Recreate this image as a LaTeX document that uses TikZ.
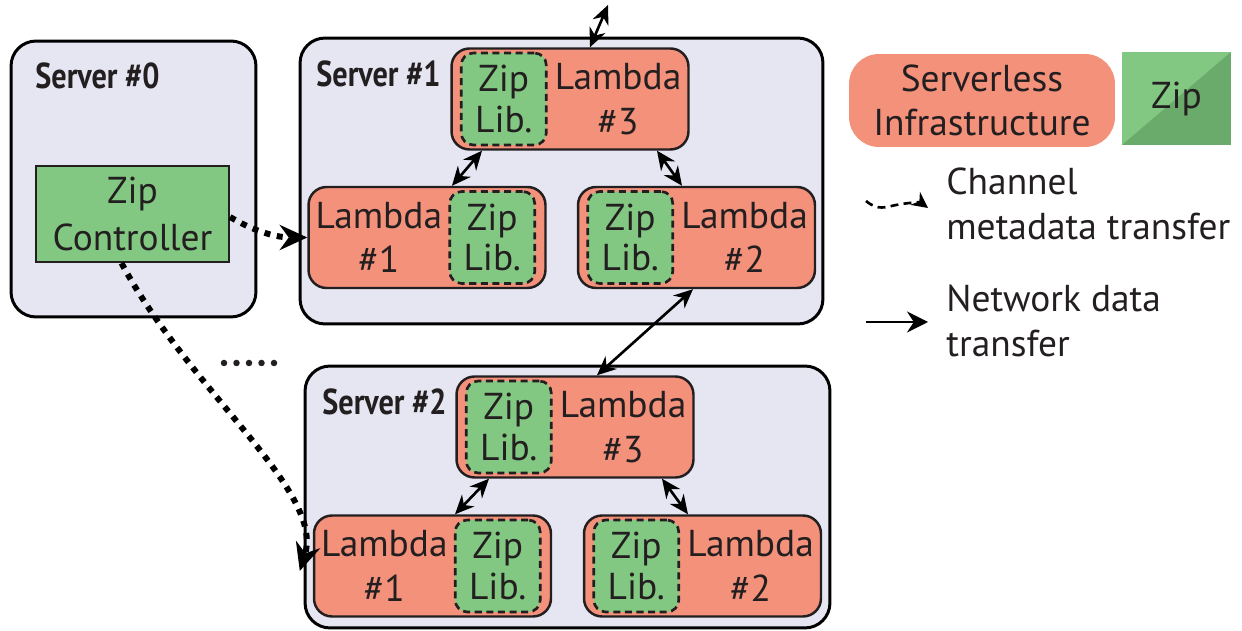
\documentclass[tikz,border=0pt]{standalone}
\usepackage{fontspec}
\setmainfont{PT Sans}
\newfontfamily\servfont[FakeStretch=0.84]{PT Sans}
\usetikzlibrary{arrows.meta,positioning,calc}
\definecolor{Ink}{HTML}{231F20}
\definecolor{ServerBg}{HTML}{E6E6F2}
\definecolor{Salmon}{HTML}{F3917B}
\definecolor{ZipGreen}{HTML}{82C882}
\definecolor{ZipDark}{HTML}{6AAA6A}
\newcommand{\figsize}{\fontsize{21.3pt}{25.5pt}\selectfont}

\begin{document}
\begin{tikzpicture}[x=0.02cm,y=-0.02cm,
  server/.style={draw=black,line width=1.7pt,fill=ServerBg,rounded corners=0.5cm,inner sep=0pt},
  srvlabel/.style={font=\servfont\bfseries\fontsize{20.5pt}{24pt}\selectfont,text=Ink,anchor=base west,inner sep=0pt},
  lambda/.style={draw=Ink,line width=1.4pt,fill=Salmon,rounded corners=0.36cm,minimum width=4.74cm,minimum height=2.02cm,inner sep=0pt},
  lamtext/.style={font=\figsize,text=Ink,align=center,inner sep=0pt},
  ziplib/.style={draw=Ink,line width=1.5pt,dash pattern=on 4pt off 2.6pt,fill=ZipGreen,rounded corners=0.24cm,minimum width=1.7cm,minimum height=1.84cm,inner sep=0pt,align=center,text=Ink,font=\fontsize{21.3pt}{23pt}\selectfont},
  zipctl/.style={draw=Ink,line width=1.3pt,fill=ZipGreen,minimum width=3.86cm,minimum height=1.92cm,inner sep=0pt,align=center,text=Ink,font=\fontsize{21.3pt}{27pt}\selectfont},
  net/.style={line width=1.5pt,arrows={Stealth[length=3.8mm,width=3.4mm]-Stealth[length=3.8mm,width=3.4mm]}},
  meta/.style={line width=3.4pt,dash pattern=on 3.4pt off 3.8pt,-{Stealth[length=5.5mm,width=5mm]}},
  legtext/.style={font=\figsize,text=Ink,align=left,anchor=west,inner sep=0pt}
]
\useasboundingbox (0,0) rectangle (1242,631);

\node[server,minimum width=4.9cm,minimum height=5.52cm] (srv0) at (133.5,179) {};
\node[server,minimum width=10.46cm,minimum height=5.72cm] (srv1) at (561.5,181) {};
\node[server,minimum width=10.5cm,minimum height=5.24cm] (srv2) at (567.5,497) {};
\node[srvlabel] (srv0t) at (35,89) {Server \#0};
\node[srvlabel] (srv1t) at (316,87) {Server \#1};
\node[srvlabel] (srv2t) at (322,415) {Server \#2};

\node[zipctl] (ctl) at (132.5,214) {Zip\\Controller};

\node[lambda] (s1l3) at (570,99) {};
\node[ziplib] (s1z3) at ([xshift=1.07cm]s1l3.west) {Zip\\Lib.};
\node[lamtext,anchor=east] (s1t3) at ([xshift=-0.16cm]s1l3.east) {Lambda\\\#3};
\node[lambda] (s1l1) at (427,237.5) {};
\node[ziplib] (s1z1) at ([xshift=-1.09cm]s1l1.east) {Zip\\Lib.};
\node[lamtext,anchor=west] (s1t1) at ([xshift=0.16cm]s1l1.west) {Lambda\\\#1};
\node[lambda] (s1l2) at (696.5,237.5) {};
\node[ziplib] (s1z2) at ([xshift=1.07cm]s1l2.west) {Zip\\Lib.};
\node[lamtext,anchor=east] (s1t2) at ([xshift=-0.16cm]s1l2.east) {Lambda\\\#2};

\node[lambda] (s2l3) at (575,427) {};
\node[ziplib] (s2z3) at ([xshift=1.07cm]s2l3.west) {Zip\\Lib.};
\node[lamtext,anchor=east] (s2t3) at ([xshift=-0.16cm]s2l3.east) {Lambda\\\#3};
\node[lambda] (s2l1) at (432.5,566) {};
\node[ziplib] (s2z1) at ([xshift=-1.09cm]s2l1.east) {Zip\\Lib.};
\node[lamtext,anchor=west] (s2t1) at ([xshift=0.16cm]s2l1.west) {Lambda\\\#1};
\node[lambda] (s2l2) at (702.5,566) {};
\node[ziplib] (s2z2) at ([xshift=1.07cm]s2l2.west) {Zip\\Lib.};
\node[lamtext,anchor=east] (s2t2) at ([xshift=-0.16cm]s2l2.east) {Lambda\\\#2};

\coordinate (out) at (608,5);
\draw[net] ([xshift=0.4cm]s1l3.north) -- (out);
\draw[net] ([xshift=-1.76cm]s1l3.south) -- ([xshift=0.5cm]s1l1.north);
\draw[net] ([xshift=1.74cm]s1l3.south) -- ([xshift=-0.29cm]s1l2.north);
\draw[net] ([xshift=-0.07cm]s1l2.south) -- ([xshift=0.44cm]s2l3.north);
\draw[net] ([xshift=-1.72cm]s2l3.south) -- ([xshift=0.45cm]s2l1.north);
\draw[net] ([xshift=1.74cm]s2l3.south) -- ([xshift=-0.29cm]s2l2.north);

\draw[meta] ([yshift=-0.06cm]ctl.east) .. controls +(25,15) and +(-30,0) .. (s1l1.west);
\draw[meta] ([xshift=-0.22cm]ctl.south) .. controls +(70,130) and +(25,-80) .. ([xshift=-0.26cm,yshift=-0.1cm]s2l1.west);

\foreach \i in {0,...,4}
  \fill[Ink] (224+12.5*\i,363) circle (0.065cm);

\node[fill=Salmon,rounded corners=0.6cm,minimum width=5.32cm,minimum height=1.86cm,inner sep=0pt,align=center,text=Ink,font=\figsize] (legsrv) at (982,100.5) {Serverless\\Infrastructure};
\node[minimum width=2.18cm,minimum height=1.86cm,inner sep=0pt,text=Ink,font=\figsize,fill=ZipGreen,
  path picture={\fill[ZipDark] (path picture bounding box.south west) -- (path picture bounding box.north east) -- (path picture bounding box.south east) -- cycle;}] (legzip) at (1176.5,98.5) {Zip};

\coordinate (legm1) at (866,201);
\coordinate (legm2) at (928,208);
\draw[line width=1.5pt,dash pattern=on 4.5pt off 3pt,-{Stealth[length=3.2mm,width=3.2mm]}] (legm1) .. controls +(12,10) and +(-10,2) .. ++(30,4) .. controls +(10,-2) and +(-8,-6) .. (legm2);
\node[legtext] (legmt) at (946,204) {Channel\\metadata transfer};

\coordinate (legn1) at (866,322);
\coordinate (legn2) at (928,322);
\draw[line width=1.3pt,-{Stealth[length=4.2mm,width=4.2mm]}] (legn1) -- (legn2);
\node[legtext] (legnt) at (946,321) {Network data\\transfer};
\end{tikzpicture}
\end{document}
